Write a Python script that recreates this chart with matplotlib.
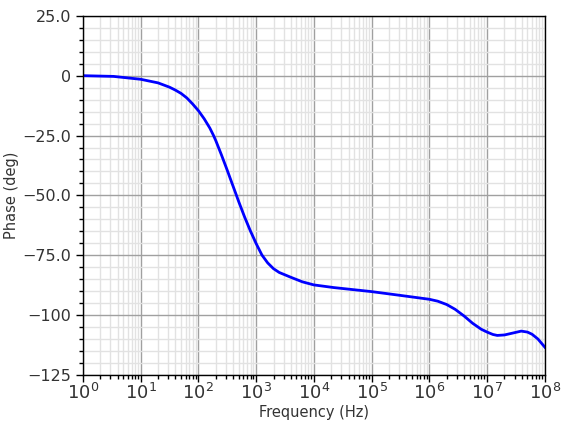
import numpy as np
import matplotlib
matplotlib.use("Agg")
import matplotlib.pyplot as plt
from matplotlib.ticker import LogLocator, MultipleLocator, FixedLocator, FixedFormatter

# phase response
freq = [1, 3.4, 10, 20, 31.6, 39.8, 50.1, 63.1, 79.4, 100, 126, 158, 183, 200,
        251, 316, 398, 453, 501, 631, 794, 1000, 1259, 1585, 1995, 2512, 3981,
        6310, 1e4, 2.2e4, 1e5, 3.2e5, 1e6, 1.4e6, 2e6, 2.8e6, 4e6, 5.6e6, 7.9e6,
        1e7, 1.26e7, 1.5e7, 2e7, 2.8e7, 3.9e7, 5e7, 6e7, 7.6e7, 1e8]
phase = [0, -0.3, -1.5, -3.0, -4.8, -6.0, -7.4, -9.3, -11.8, -14.6, -18.0,
         -21.9, -25.0, -27.1, -33.1, -39.5, -46.1, -49.8, -52.7, -59.0, -64.8,
         -70.1, -74.9, -78.2, -80.6, -82.2, -84.2, -86.1, -87.4, -88.5, -90.2,
         -91.8, -93.4, -94.2, -95.6, -97.6, -100.4, -103.4, -105.9, -107.1,
         -108.1, -108.5, -108.3, -107.5, -106.7, -107.1, -108.0, -110.0, -113.4]

yticks = [25, 0, -25, -50, -75, -100, -125]
ylabels = ["25.0", "0", "\u221225.0", "\u221250.0", "\u221275.0", "\u2212100", "\u2212125"]

fig = plt.figure(figsize=(5.64, 4.28), dpi=100)
ax = fig.add_axes([0.147, 0.124, 0.819, 0.839])

ax.plot(freq, phase, color="#0000ff", lw=2)

ax.set_xscale("log")
ax.set_xlim(1, 1e8)
ax.set_ylim(-125, 25)

ax.xaxis.set_major_locator(LogLocator(base=10, numticks=20))
ax.xaxis.set_minor_locator(LogLocator(base=10, subs=np.arange(2, 10), numticks=100))
ax.yaxis.set_major_locator(FixedLocator(yticks))
ax.yaxis.set_major_formatter(FixedFormatter(ylabels))
ax.yaxis.set_minor_locator(MultipleLocator(5))

ax.grid(which="major", color="#a0a0a0", lw=1)
ax.grid(which="minor", color="#e2e2e2", lw=1)
ax.set_axisbelow(True)

ax.tick_params(which="major", direction="out", length=5, width=1, labelsize=11.5,
               colors="black", labelcolor="#333333")
ax.tick_params(which="minor", direction="out", length=3, width=1)
ax.tick_params(axis="x", pad=1, labelsize=13)

for s in ax.spines.values():
    s.set_color("black")
    s.set_linewidth(1)

ax.set_xlabel("Frequency (Hz)", fontsize=10.5, color="#333333", labelpad=1)
ax.set_ylabel("Phase (deg)", fontsize=10.5, color="#333333", labelpad=2)

fig.savefig("out.png", dpi=100)
